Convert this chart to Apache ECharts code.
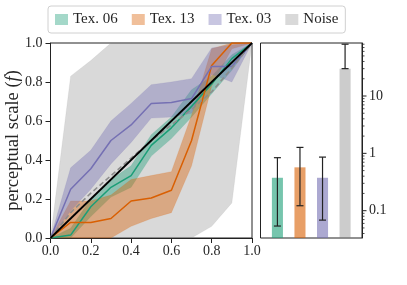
<!DOCTYPE html>
<html><head><meta charset="utf-8">
<script src="https://cdn.jsdelivr.net/npm/echarts@6/dist/echarts.min.js"></script>
<style>html,body{margin:0;padding:0;background:#fff}#c{width:407px;height:285px}</style>
</head><body><div id="c"></div>
<script>
// ---- data ----
const names = ['Tex. 06', 'Tex. 13', 'Tex. 03', 'Noise'];
const xs = [0, 0.1, 0.2, 0.3, 0.4, 0.5, 0.6, 0.7, 0.8, 0.9, 1.0];

const tex06Mean = [0, 0.015, 0.16, 0.26, 0.32, 0.475, 0.565, 0.675, 0.79, 0.92, 1];
const tex06Lo   = [0, 0, 0.11, 0.21, 0.26, 0.42, 0.51, 0.62, 0.74, 0.86, 1];
const tex06Hi   = [0, 0.05, 0.2, 0.3, 0.37, 0.53, 0.62, 0.76, 0.83, 0.94, 1];

const tex13Mean = [0, 0.08, 0.08, 0.1, 0.19, 0.205, 0.245, 0.5, 0.885, 1, 1];
const tex13Lo   = [0, 0, 0, 0, 0.06, 0.1, 0.13, 0.37, 0.78, 0.97, 1];
const tex13Hi   = [0, 0.19, 0.19, 0.22, 0.3, 0.32, 0.34, 0.63, 0.97, 1, 1];

const tex03Mean = [0, 0.25, 0.355, 0.5, 0.58, 0.69, 0.695, 0.715, 0.88, 0.88, 1];
const tex03Lo   = [0, 0.14, 0.25, 0.38, 0.49, 0.615, 0.62, 0.64, 0.84, 0.80, 1];
const tex03Hi   = [0, 0.36, 0.45, 0.6, 0.69, 0.786, 0.8, 0.817, 0.975, 0.99, 1];

const noiseMean = [0, 0.13, 0.23, 0.32, 0.41, 0.5, 0.58, 0.66, 0.75, 0.87, 1];
const noiseLo   = [0, 0, 0, 0, 0, 0, 0, 0, 0.06, 0.18, 1];
const noiseHi   = [0, 0.83, 0.91, 1, 1, 1, 1, 1, 1, 1, 1];

const identity = [0, 1];

// right panel: bar values and error bars (log scale)
const barPos   = [0, 1, 2, 3];
const barVals  = [0.375, 0.57, 0.375, 30];
const errLo    = [0.054, 0.122, 0.0685, 30];
const errHi    = [0.84, 1.27, 0.86, 80];

const logMajor = [0.1, 1, 10];
const logMinor = [0.04, 0.05, 0.06, 0.07, 0.08, 0.09, 0.2, 0.3, 0.4, 0.5, 0.6, 0.7, 0.8, 0.9,
                  2, 3, 4, 5, 6, 7, 8, 9, 20, 30, 40, 50, 60, 70, 80];

// ---- styling ----
const colors = ['#1b9e77', '#d95f02', '#7570b3', '#808080'];
function rgba(hex, a) {
  const n = parseInt(hex.slice(1), 16);
  return `rgba(${(n >> 16) & 255},${(n >> 8) & 255},${n & 255},${a})`;
}
const FONT = 'Liberation Serif';
const TXT = '#262626';
const AX = '#222';

const series = [];
function band(lo, hi, color, alpha, z) {
  series.push({
    type: 'custom', xAxisIndex: 0, yAxisIndex: 0, silent: true, animation: false, z: z,
    encode: { x: 0, y: [1, 2] },
    data: xs.map((x, i) => [x, lo[i], hi[i]]),
    renderItem: function (params, api) {
      if (params.dataIndexInside !== 0) return null;
      const n = params.dataInsideLength;
      const top = [], bot = [];
      for (let k = 0; k < n; k++) {
        const x = api.value(0, k);
        top.push(api.coord([x, api.value(2, k)]));
        bot.push(api.coord([x, api.value(1, k)]));
      }
      const pts = top.concat(bot.reverse());
      return { type: 'polygon', shape: { points: pts },
               style: { fill: rgba(color, alpha), stroke: rgba(color, alpha * 0.6), lineWidth: 0.6 } };
    }
  });
}
function line(data, color, width, type, z) {
  series.push({
    type: 'line', xAxisIndex: 0, yAxisIndex: 0,
    data: xs.map((x, i) => [x, data[i]]), symbol: 'none', silent: true,
    lineStyle: { color: color, width: width, type: type }, z: z, animation: false
  });
}

band(noiseLo, noiseHi, colors[3], 0.3, 1);
band(tex06Lo, tex06Hi, colors[0], 0.4, 2);
band(tex13Lo, tex13Hi, colors[1], 0.4, 2);
band(tex03Lo, tex03Hi, colors[2], 0.4, 2);
line(tex06Mean, colors[0], 1.5, 'solid', 3);
line(tex13Mean, colors[1], 1.5, 'solid', 3);
line(tex03Mean, colors[2], 1.5, 'solid', 3);
line(noiseMean, '#8c8c8c', 1.6, [5, 3], 4);
series.push({
  type: 'line', xAxisIndex: 0, yAxisIndex: 0,
  data: identity.map(v => [v, v]), symbol: 'none', silent: true,
  lineStyle: { color: '#000', width: 1.8 }, z: 5, animation: false
});

// bars (custom, so they rise from the bottom of the log axis)
const barAlpha = [0.6, 0.6, 0.6, 0.4];
names.forEach((nm, i) => {
  series.push({
    type: 'custom', name: nm, xAxisIndex: 1, yAxisIndex: 1, silent: true, animation: false, z: 2,
    encode: { x: 0, y: 1 },
    itemStyle: { color: rgba(colors[i], barAlpha[i]) },
    data: [[barPos[i], barVals[i]]],
    renderItem: function (params, api) {
      const p = api.coord([api.value(0), api.value(1)]);
      const w = api.size([0.49, 1])[0];
      const yb = params.coordSys.y + params.coordSys.height;
      return { type: 'rect', shape: { x: p[0] - w / 2, y: p[1], width: w, height: yb - p[1] },
               style: { fill: rgba(colors[i], barAlpha[i]) } };
    }
  });
});
// error bars
series.push({
  type: 'custom', xAxisIndex: 1, yAxisIndex: 1, silent: true, animation: false, z: 10,
  encode: { x: 0, y: [1, 2] },
  data: barPos.map((x, i) => [x, errLo[i], errHi[i]]),
  renderItem: function (params, api) {
    const x = api.value(0);
    const a = api.coord([x, api.value(1)]);
    const b = api.coord([x, api.value(2)]);
    const w = 3.5;
    const st = { stroke: '#222', lineWidth: 1.2 };
    return { type: 'group', children: [
      { type: 'line', shape: { x1: a[0], y1: a[1], x2: b[0], y2: b[1] }, style: st },
      { type: 'line', shape: { x1: a[0] - w, y1: a[1], x2: a[0] + w, y2: a[1] }, style: st },
      { type: 'line', shape: { x1: b[0] - w, y1: b[1], x2: b[0] + w, y2: b[1] }, style: st }
    ] };
  }
});
// log axis ticks (major + minor), drawn at right edge of panel
const tickData = logMajor.map(v => [0, v, 1]).concat(logMinor.map(v => [0, v, 0]));
series.push({
  type: 'custom', xAxisIndex: 1, yAxisIndex: 1, silent: true, animation: false, z: 10,
  encode: { x: 0, y: 1 }, clip: false,
  data: tickData,
  renderItem: function (params, api) {
    const p = api.coord([api.value(0), api.value(1)]);
    const xr = params.coordSys.x + params.coordSys.width;
    const len = api.value(2) ? 4.5 : 2.5;
    return { type: 'line', shape: { x1: xr, y1: p[1], x2: xr + len, y2: p[1] },
             style: { stroke: AX, lineWidth: api.value(2) ? 1 : 0.8 } };
  }
});

const option = {
  backgroundColor: '#fff',
  animation: false,
  textStyle: { fontFamily: FONT },
  legend: {
    left: 48, top: 6, padding: [6, 7], itemGap: 14,
    itemWidth: 13, itemHeight: 11, icon: 'rect',
    borderColor: '#d0d0d0', borderWidth: 1, borderRadius: 3, backgroundColor: '#fff',
    textStyle: { fontFamily: FONT, fontSize: 15, color: TXT },
    data: names.map((nm, i) => ({ name: nm, itemStyle: { color: rgba(colors[i], i === 3 ? 0.3 : 0.4) } })),
    selectedMode: false
  },
  grid: [
    { left: 50.5, top: 43, width: 201.5, height: 195, show: true, borderColor: AX, borderWidth: 1, backgroundColor: 'transparent' },
    { left: 260.5, top: 43, width: 101.5, height: 195, show: true, borderColor: AX, borderWidth: 1, backgroundColor: 'transparent' }
  ],
  xAxis: [
    { type: 'value', gridIndex: 0, min: 0, max: 1, interval: 0.2,
      axisLine: { show: true, lineStyle: { color: AX } },
      axisTick: { show: true, length: 5, lineStyle: { color: AX } },
      axisLabel: { fontFamily: FONT, fontSize: 14, color: TXT, margin: 6, formatter: v => v.toFixed(1) },
      splitLine: { show: false } },
    { type: 'value', gridIndex: 1, min: -0.75, max: 3.75, show: false, splitLine: { show: false } }
  ],
  yAxis: [
    { type: 'value', gridIndex: 0, min: 0, max: 1, interval: 0.2,
      name: 'perceptual scale ({i|f})', nameLocation: 'middle', nameGap: 28, nameMoveOverlap: false,
      nameTextStyle: { fontFamily: FONT, fontSize: 18.5, color: TXT,
        rich: { i: { fontFamily: FONT, fontSize: 18.5, fontStyle: 'italic', color: TXT } } },
      axisLine: { show: true, onZero: false, lineStyle: { color: AX } },
      axisTick: { show: true, length: 5, lineStyle: { color: AX } },
      axisLabel: { fontFamily: FONT, fontSize: 14, color: TXT, margin: 8, formatter: v => v.toFixed(1) },
      splitLine: { show: false } },
    { type: 'log', gridIndex: 1, position: 'right', min: 0.0334, max: 84, logBase: 10,
      axisLine: { show: true, onZero: false, lineStyle: { color: AX } },
      axisTick: { show: false },
      axisLabel: { fontFamily: FONT, fontSize: 14, color: TXT, margin: 7,
        formatter: function (v) {
          const l = Math.log10(v);
          if (Math.abs(l - Math.round(l)) > 1e-6) return '';
          const r = Math.round(l);
          return r >= 0 ? String(Math.pow(10, r)) : Math.pow(10, r).toFixed(-r);
        } },
      splitLine: { show: false }, minorSplitLine: { show: false } }
  ],
  series: series
};
const chart = echarts.init(document.getElementById('c'), null, { renderer: 'canvas' });
chart.setOption(option);
</script>
</body></html>
